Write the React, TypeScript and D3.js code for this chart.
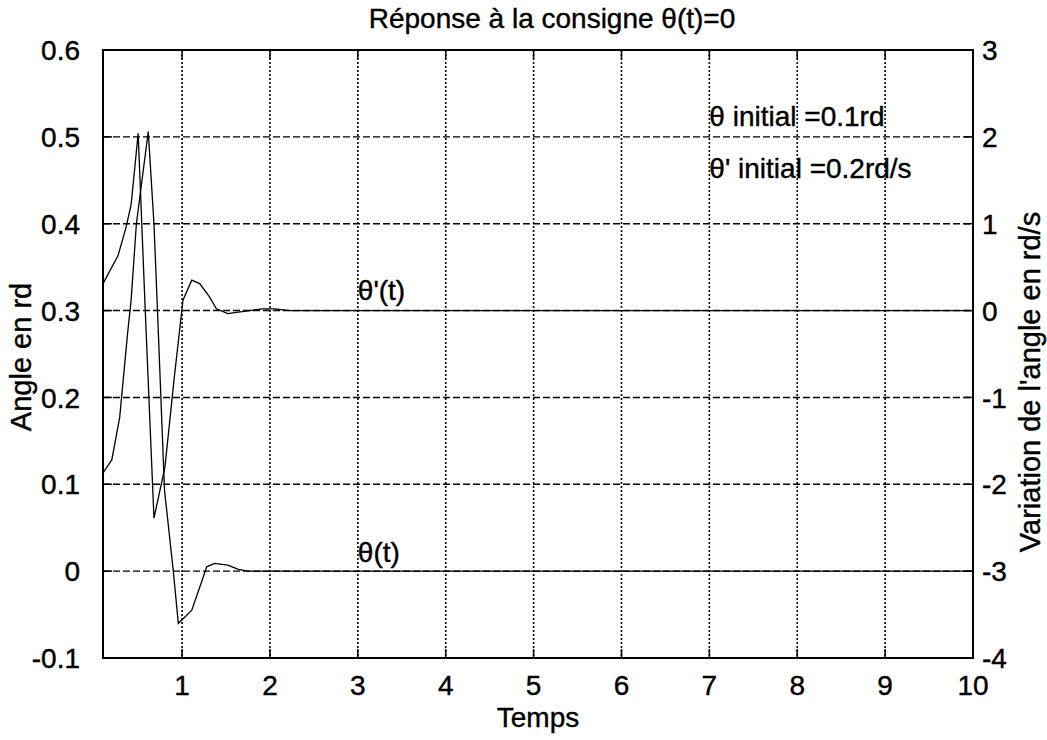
import * as d3 from 'd3'
import { useEffect, useRef } from 'react'

// time samples and values
const timeTheta = [0.1, 0.2, 0.29, 0.38, 0.42, 0.48, 0.615, 0.68, 0.72, 0.8, 0.9, 0.957, 1.03, 1.11, 1.23, 1.28, 1.37, 1.52, 1.64, 1.75, 10]
const theta = [0.113, 0.128, 0.177, 0.274, 0.312, 0.4, 0.506, 0.4, 0.3, 0.093, 0.0, -0.06, -0.053, -0.045, -0.01, 0.005, 0.009, 0.007, 0.002, 0, 0]

const timeDTheta = [0.1, 0.27, 0.36, 0.42, 0.5, 0.58, 0.68, 0.805, 0.91, 1.01, 1.11, 1.2, 1.31, 1.39, 1.52, 1.62, 1.77, 1.91, 2.05, 2.23, 10]
const dTheta = [0.31, 0.63, 0.95, 1.22, 2.04, 0.02, -2.39, -1.8, -0.78, 0.12, 0.35, 0.31, 0.16, 0.02, -0.035, -0.02, 0, 0.02, 0.02, 0, 0]

const xTicks = [1, 2, 3, 4, 5, 6, 7, 8, 9, 10]
const leftTicks = [-0.1, 0, 0.1, 0.2, 0.3, 0.4, 0.5, 0.6]
const rightTicks = [-4, -3, -2, -1, 0, 1, 2, 3]

const FONT = '"Liberation Sans", Arial, Helvetica, sans-serif'

const App = () => {
  const svgRef = useRef(null)

  useEffect(() => {
    const svg = d3.select(svgRef.current)
    svg.selectAll('*').remove()

    const left = 103
    const right = 973
    const top = 50
    const bottom = 658

    const x = d3.scaleLinear().domain([0.1, 10]).range([left, right])
    const yL = d3.scaleLinear().domain([-0.1, 0.6]).range([bottom, top])
    const yR = d3.scaleLinear().domain([-4, 3]).range([bottom, top])

    // grid
    svg
      .selectAll('.vgrid')
      .data(xTicks.slice(0, -1))
      .enter()
      .append('line')
      .attr('x1', (d) => x(d))
      .attr('x2', (d) => x(d))
      .attr('y1', top)
      .attr('y2', bottom)
      .attr('stroke', '#000')
      .attr('stroke-width', 1.6)
      .attr('stroke-dasharray', '2,2')

    svg
      .selectAll('.hgrid')
      .data(leftTicks.slice(1, -1))
      .enter()
      .append('line')
      .attr('x1', left)
      .attr('x2', right)
      .attr('y1', (d) => yL(d))
      .attr('y2', (d) => yL(d))
      .attr('stroke', '#000')
      .attr('stroke-width', 1.4)
      .attr('stroke-dasharray', '7,3')

    // curves
    const lineL = d3
      .line()
      .x((d) => x(d[0]))
      .y((d) => yL(d[1]))
    const lineR = d3
      .line()
      .x((d) => x(d[0]))
      .y((d) => yR(d[1]))

    svg
      .append('path')
      .attr('d', lineL(timeTheta.map((t, i) => [t, theta[i]])))
      .attr('fill', 'none')
      .attr('stroke', '#000')
      .attr('stroke-width', 1.3)

    svg
      .append('path')
      .attr('d', lineR(timeDTheta.map((t, i) => [t, dTheta[i]])))
      .attr('fill', 'none')
      .attr('stroke', '#000')
      .attr('stroke-width', 1.3)

    // box
    svg
      .append('rect')
      .attr('x', left)
      .attr('y', top)
      .attr('width', right - left)
      .attr('height', bottom - top)
      .attr('fill', 'none')
      .attr('stroke', '#000')
      .attr('stroke-width', 2)

    // ticks (inward)
    const tl = 9
    xTicks.forEach((d) => {
      svg.append('line').attr('x1', x(d)).attr('x2', x(d)).attr('y1', bottom).attr('y2', bottom - tl).attr('stroke', '#000').attr('stroke-width', 1.5)
      svg.append('line').attr('x1', x(d)).attr('x2', x(d)).attr('y1', top).attr('y2', top + tl).attr('stroke', '#000').attr('stroke-width', 1.5)
    })
    leftTicks.forEach((d) => {
      svg.append('line').attr('x1', left).attr('x2', left + tl).attr('y1', yL(d)).attr('y2', yL(d)).attr('stroke', '#000').attr('stroke-width', 1.5)
    })
    rightTicks.forEach((d) => {
      svg.append('line').attr('x1', right).attr('x2', right - tl).attr('y1', yR(d)).attr('y2', yR(d)).attr('stroke', '#000').attr('stroke-width', 1.5)
    })

    const txt = (size) => (sel) =>
      sel
        .style('font-family', FONT)
        .style('font-size', `${size}px`)
        .attr('fill', '#000')
        .attr('stroke', '#000')
        .attr('stroke-width', 0.4)

    // tick labels
    svg
      .selectAll('.xl')
      .data(xTicks)
      .enter()
      .append('text')
      .attr('x', (d) => x(d))
      .attr('y', 695)
      .attr('text-anchor', 'middle')
      .text((d) => d)
      .call(txt(28))

    svg
      .selectAll('.yl')
      .data(leftTicks)
      .enter()
      .append('text')
      .attr('x', 80)
      .attr('y', (d) => yL(d))
      .attr('dy', '0.36em')
      .attr('text-anchor', 'end')
      .text((d) => String(+d.toFixed(1)))
      .call(txt(28))

    svg
      .selectAll('.yr')
      .data(rightTicks)
      .enter()
      .append('text')
      .attr('x', 982)
      .attr('y', (d) => yR(d))
      .attr('dy', '0.36em')
      .attr('text-anchor', 'start')
      .text((d) => d)
      .call(txt(28))

    // titles
    svg
      .append('text')
      .attr('x', 552)
      .attr('y', 28)
      .attr('text-anchor', 'middle')
      .text('Réponse à la consigne θ(t)=0')
      .call(txt(28))

    svg
      .append('text')
      .attr('x', (left + right) / 2)
      .attr('y', 727)
      .attr('text-anchor', 'middle')
      .text('Temps')
      .call(txt(28))

    svg
      .append('text')
      .attr('transform', `translate(31,357) rotate(-90)`)
      .attr('text-anchor', 'middle')
      .text('Angle en rd')
      .call(txt(29))

    svg
      .append('text')
      .attr('transform', `translate(1040,382) rotate(-90)`)
      .attr('text-anchor', 'middle')
      .text("Variation de l'angle en rd/s")
      .call(txt(29))

    // annotations
    svg.append('text').attr('x', x(3)).attr('y', yL(0.324)).attr('dy', '0.36em').text("θ'(t)").call(txt(28))
    svg.append('text').attr('x', x(3)).attr('y', yL(0.022)).attr('dy', '0.36em').text('θ(t)').call(txt(28))
    svg.append('text').attr('x', x(7)).attr('y', 116).attr('dy', '0.36em').text('θ initial =0.1rd').call(txt(28))
    svg.append('text').attr('x', x(7)).attr('y', 168).attr('dy', '0.36em').text("θ' initial =0.2rd/s").call(txt(28))
  }, [])

  return (
    <svg
      ref={svgRef}
      width="1047"
      height="740"
      style={{ position: 'absolute', left: 0, top: 0, background: '#fff' }}
    ></svg>
  )
}

export default App
